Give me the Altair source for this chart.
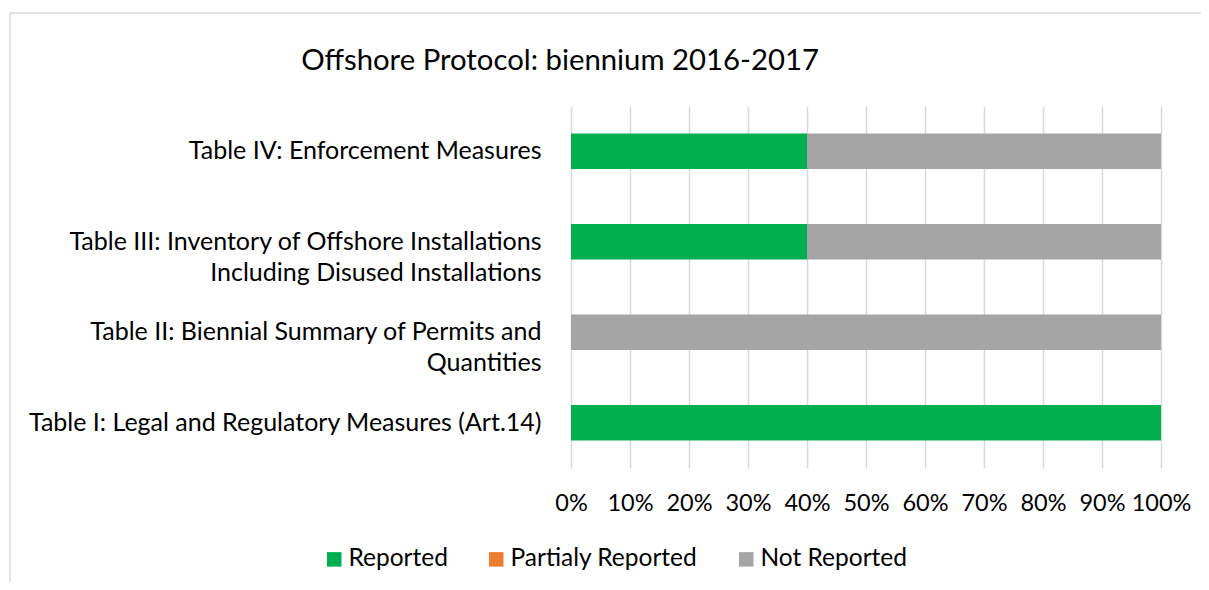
import altair as alt
import pandas as pd

chart_title = "Offshore Protocol: biennium 2016-2017"
categories = [
    "Table IV: Enforcement Measures",
    "Table III: Inventory of Offshore Installations|Including Disused Installations",
    "Table II: Biennial Summary of Permits and|Quantities",
    "Table I: Legal and Regulatory Measures (Art.14)",
]
series = ["Reported", "Partialy Reported", "Not Reported"]
reported = [40, 40, 0, 100]
partialy = [0, 0, 0, 0]
not_reported = [60, 60, 100, 0]
colors = ["#00B050", "#ED7D31", "#A5A5A5"]
tick_values = [0, 0.1, 0.2, 0.3, 0.4, 0.5, 0.6, 0.7, 0.8, 0.9, 1.0]

rows = []
for i, c in enumerate(categories):
    for k, (s, vals) in enumerate(zip(series, [reported, partialy, not_reported])):
        rows.append({"category": c, "series": s, "value": vals[i], "order": k})
df = pd.DataFrame(rows)

FONT = "Lato"

bars = alt.Chart(df).mark_bar().encode(
    y=alt.Y(
        "category:N",
        sort=categories,
        title=None,
        scale=alt.Scale(paddingInner=0.61, paddingOuter=0.305),
        axis=alt.Axis(
            labelExpr="split(datum.label, '|')",
            ticks=False,
            domain=False,
            grid=False,
            labelPadding=30,
            labelFontSize=25,
            labelLineHeight=31,
            labelColor="#000000",
            labelFont=FONT,
            labelLimit=600,
        ),
    ),
    x=alt.X(
        "value:Q",
        stack="normalize",
        title=None,
        scale=alt.Scale(domain=[0, 1], nice=False),
        axis=alt.Axis(
            format=".0%",
            values=tick_values,
            ticks=False,
            domain=False,
            grid=True,
            gridColor="#D9D9D9",
            gridWidth=1.5,
            labelPadding=23,
            labelFontSize=23.5,
            labelColor="#000000",
            labelFont=FONT,
            labelFlush=False,
        ),
    ),
    color=alt.Color(
        "series:N",
        scale=alt.Scale(domain=series, range=colors),
        legend=alt.Legend(
            title=None,
            orient="none",
            direction="horizontal",
            legendX=-249,
            legendY=441,
            symbolType="square",
            symbolSize=210,
            symbolStrokeWidth=0,
            labelFontSize=24.5,
            labelFont=FONT,
            labelColor="#000000",
            labelOffset=2,
            labelLimit=400,
            columnPadding=36,
        ),
    ),
    order=alt.Order("order:Q"),
)

border = alt.Chart(alt.Data(values=[{}])).mark_rect(
    filled=False, stroke="#D9D9D9", strokeWidth=1.5, clip=False
).encode(
    x=alt.value(-561),
    x2=alt.value(700),
    y=alt.value(-93),
    y2=alt.value(520),
)

title_mark = alt.Chart(alt.Data(values=[{}])).mark_text(
    text=chart_title,
    font=FONT,
    fontSize=29.3,
    color="#000000",
    align="center",
    baseline="alphabetic",
    clip=False,
).encode(
    x=alt.value(-11),
    y=alt.value(-36),
)

chart = alt.layer(border, title_mark, bars).properties(
    width=590,
    height=362,
    padding={"left": 563, "top": 98, "right": 40, "bottom": 114},
    autosize=alt.AutoSizeParams(type="none"),
).configure_view(stroke=None)

chart.save("out.html", embed_options={"renderer": "svg", "actions": False})
